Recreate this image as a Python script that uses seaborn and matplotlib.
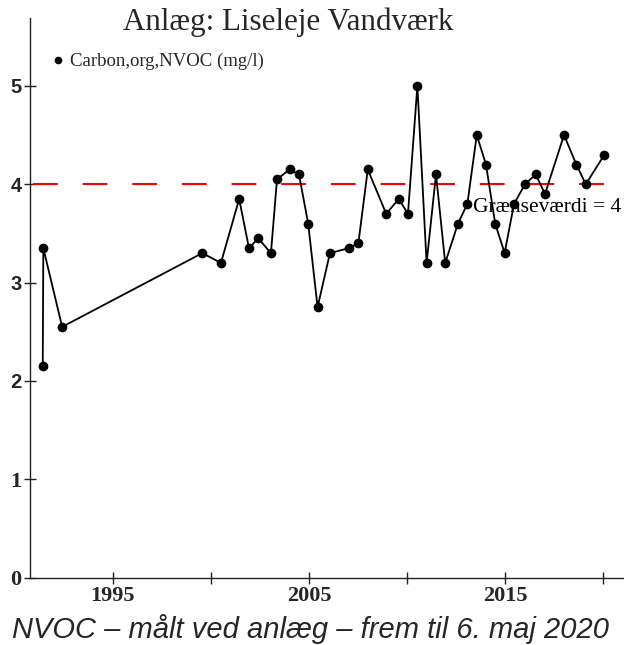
import numpy as np
import pandas as pd
import matplotlib
matplotlib.use('Agg')
import matplotlib.pyplot as plt
import seaborn as sns
from matplotlib.lines import Line2D

# Données NVOC (mg/l) - dates en années décimales
dates = [1991.42, 1991.45, 1992.41, 1999.56, 2000.51, 2001.44, 2001.94, 2002.41,
         2003.06, 2003.37, 2004.01, 2004.49, 2004.96, 2005.44, 2006.07, 2007.04,
         2007.52, 2008.00, 2008.94, 2009.58, 2010.05, 2010.53, 2011.00, 2011.48,
         2011.95, 2012.60, 2013.08, 2013.56, 2014.03, 2014.50, 2014.98, 2015.46,
         2016.02, 2016.57, 2017.04, 2018.01, 2018.64, 2019.12, 2020.07]
nvoc = [2.15, 3.35, 2.55, 3.30, 3.20, 3.85, 3.35, 3.45,
        3.30, 4.05, 4.15, 4.10, 3.60, 2.75, 3.30, 3.35,
        3.40, 4.15, 3.70, 3.85, 3.70, 5.00, 3.20, 4.10,
        3.20, 3.60, 3.80, 4.50, 4.20, 3.60, 3.30, 3.80,
        4.00, 4.10, 3.90, 4.50, 4.20, 4.00, 4.30]
graensevaerdi = 4
xticks = [1995, 2000, 2005, 2010, 2015, 2020]
xticklabels = ['1995', '', '2005', '', '2015', '']
yticks = [0, 1, 2, 3, 4, 5]

df = pd.DataFrame({'dato': dates, 'nvoc': nvoc})

sns.set_style('ticks')
plt.rcParams['font.family'] = ['Liberation Serif', 'DejaVu Serif']

fig = plt.figure(figsize=(6.24, 6.45), dpi=100)
ax = fig.add_axes([30 / 624, 1 - 577.7 / 645, 594 / 624, (577.7 - 18) / 645])

sns.lineplot(data=df, x='dato', y='nvoc', ax=ax, color='black', linewidth=1.3,
             marker='o', markersize=7, markeredgewidth=0, sort=False,
             estimator=None, zorder=3)

# Grænseværdi
ax.hlines(graensevaerdi, 1990.9, max(dates), color='red', linewidth=1.5,
          linestyles=(0, (11.9, 11.93)), zorder=2)
ax.text(2013.37, 3.76, 'Grænseværdi = 4', va='center', ha='left',
        fontsize=15.5, color='black', zorder=1)

ax.set_xlim(1990.77, 2021.07)
ax.set_ylim(0, 5.69)
ax.set_xticks(xticks)
ax.set_xticklabels(xticklabels, fontweight='bold', fontsize=16)
ax.set_yticks(yticks)
ax.set_yticklabels([str(v) for v in yticks], fontweight='bold', fontsize=16)
for lab in ax.get_yticklabels():
    if lab.get_text() in ('2', '3', '4', '5'):
        lab.set_fontfamily('Liberation Sans')
        lab.set_fontsize(14.5)
ax.tick_params(direction='inout', length=8, width=1, color='#222222')
ax.tick_params(axis='y', pad=2)
ax.tick_params(axis='x', pad=2)
ax.set_xlabel('')
ax.set_ylabel('')
sns.despine(ax=ax)
for s in ('left', 'bottom'):
    ax.spines[s].set_color('#222222')
    ax.spines[s].set_linewidth(1)

# Légende
handle = Line2D([], [], marker='o', color='black', linestyle='none', markersize=4.5)
ax.legend([handle], ['Carbon,org,NVOC (mg/l)'], loc='upper left',
          bbox_to_anchor=(52 / 624, 1 - 53 / 645), bbox_transform=fig.transFigure,
          frameon=False, handlelength=0.6, handletextpad=0.35, fontsize=13.5,
          borderpad=0, borderaxespad=0)

fig.text(288 / 624, 1 - 22 / 645, 'Anlæg: Liseleje Vandværk', ha='center',
         va='center', fontsize=22.3)
fig.text(310 / 624, 1 - 629 / 645, 'NVOC – målt ved anlæg – frem til 6. maj 2020',
         ha='center', va='center', fontsize=21, style='italic',
         family=['Liberation Sans', 'DejaVu Sans'])

fig.savefig('out.png', dpi=100)
